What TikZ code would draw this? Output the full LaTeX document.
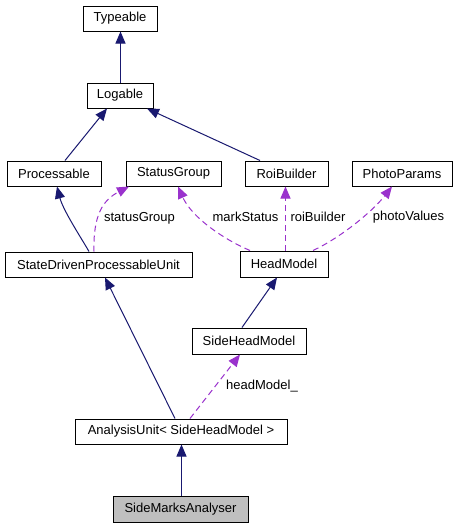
\documentclass[tikz,border=0pt]{standalone}
\usepackage{fontspec}
\setmainfont{Liberation Sans}
\usetikzlibrary{arrows.meta}
\definecolor{navyedge}{HTML}{191970}
\definecolor{orchidedge}{HTML}{9A32CD}
\definecolor{grayfill}{HTML}{BFBFBF}
\begin{document}
\begin{tikzpicture}[x=1pt,y=-1pt,
  cls/.style={draw=black,line width=1pt,fill=white,inner sep=0pt,minimum height=25pt,font=\fontsize{13}{15}\selectfont,anchor=center},
  cur/.style={cls,fill=grayfill},
  inherit/.style={draw=navyedge,line width=1pt,-{Triangle[length=12pt,width=10pt]}},
  usage/.style={draw=orchidedge,line width=1pt,dash pattern=on 6pt off 4pt,-{Triangle[length=12pt,width=10pt]}},
  lbl/.style={font=\fontsize{13}{15}\selectfont,inner sep=0pt,anchor=center}]
\useasboundingbox[fill=white] (0,0) rectangle (459,528);
% classes
\node[cls,minimum width=74pt] (typeable) at (120,18.5) {Typeable};
\node[cls,minimum width=66pt] (logable) at (120,95.5) {Logable};
\node[cls,minimum width=94pt] (processable) at (54,173.5) {Processable};
\node[cls,minimum width=95pt] (statusgroup) at (173.5,173.5) {StatusGroup};
\node[cls,minimum width=83pt] (roibuilder) at (286.5,173.5) {RoiBuilder};
\node[cls,minimum width=100pt] (photoparams) at (402,173.5) {PhotoParams};
\node[cls,minimum width=88pt,minimum height=26pt] (headmodel) at (284,264) {HeadModel};
\node[cls,minimum width=187pt] (sdpu) at (98.5,264.5) {StateDrivenProcessableUnit};
\node[cls,minimum width=114pt,minimum height=26pt] (sidehead) at (249,341) {SideHeadModel};
\node[cls,minimum width=212pt] (analysis) at (181,431.5) {AnalysisUnit< SideHeadModel >};
\node[cur,minimum width=135pt,minimum height=26pt] (sma) at (180.5,509) {SideMarksAnalyser};
% inheritance
\draw[inherit] ([xshift=0.5pt]logable.north) -- ([xshift=0.5pt]typeable.south);
\draw[inherit] ([xshift=11pt]processable.north) -- ([xshift=-13pt]logable.south);
\draw[inherit] ([xshift=-26.5pt]roibuilder.north) -- ([xshift=27pt]logable.south);
\draw[inherit] ([xshift=-9.5pt]sdpu.north) .. controls (80,236) and (63,210) .. ([xshift=3pt]processable.south);
\draw[inherit] ([xshift=-7pt]sidehead.north) -- ([xshift=-7pt]headmodel.south);
\draw[inherit] ([xshift=-6pt]analysis.north) -- ([xshift=6.5pt]sdpu.south);
\draw[inherit] ([xshift=1pt]sma.north) -- ([xshift=0.5pt]analysis.south);
% usage
\draw[usage] ([xshift=-4.5pt]sdpu.north) .. controls (93,215) and (103,200) .. ([xshift=-44.5pt]statusgroup.south);
\draw[usage] ([xshift=-34pt]headmodel.north) .. controls (225,240) and (192,218) .. ([xshift=4.5pt]statusgroup.south);
\draw[usage] ([xshift=1.5pt]headmodel.north) -- ([xshift=-1pt]roibuilder.south);
\draw[usage] ([xshift=29pt]headmodel.north) .. controls (340,238) and (372,212) .. ([xshift=-10pt]photoparams.south);
\draw[usage] ([xshift=9pt]analysis.north) -- ([xshift=-9pt]sidehead.south);
% labels
\node[lbl] (l1) at (139.5,218) {statusGroup};
\node[lbl] (l2) at (245.5,217) {markStatus};
\node[lbl] (l3) at (318,217) {roiBuilder};
\node[lbl] (l4) at (408.5,217) {photoValues};
\node[lbl] (l5) at (262,386) {headModel\_};
\end{tikzpicture}
\end{document}
